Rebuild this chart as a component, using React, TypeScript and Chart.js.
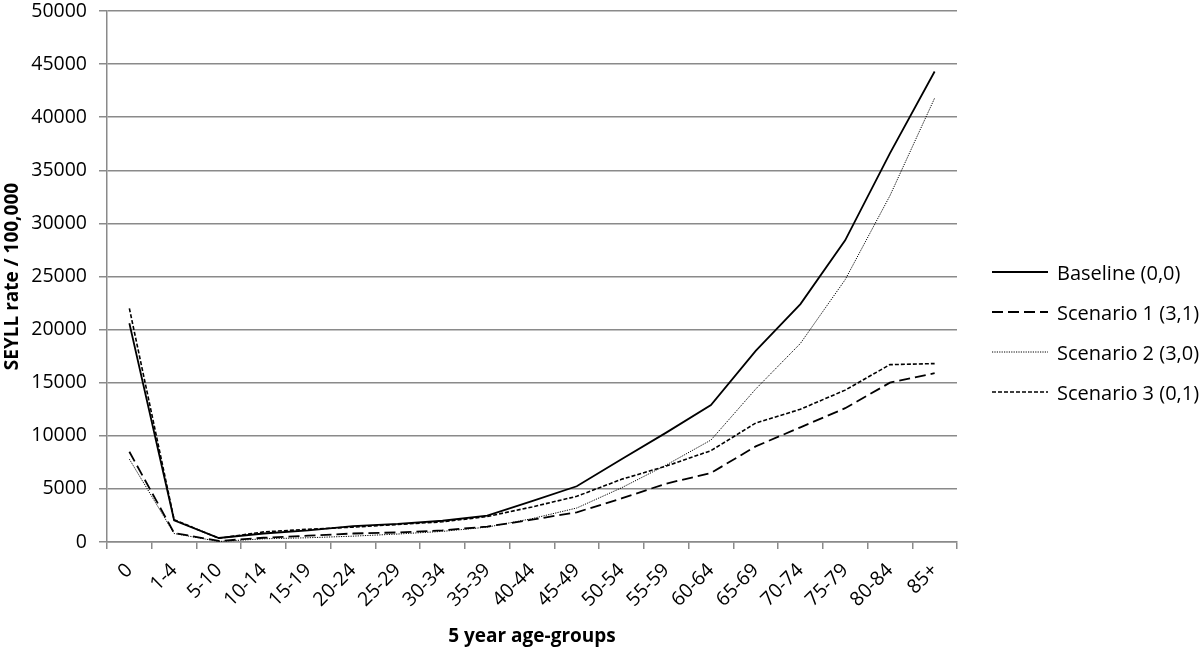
import React, { useEffect, useRef } from "react";
import { Chart, registerables } from "chart.js";

Chart.register(...registerables);

const categories = ["0", "1-4", "5-10", "10-14", "15-19", "20-24", "25-29", "30-34", "35-39", "40-44", "45-49", "50-54", "55-59", "60-64", "65-69", "70-74", "75-79", "80-84", "85+"];

const baseline = [20600, 2050, 380, 800, 1100, 1500, 1700, 2000, 2480, 3850, 5250, 7800, 10300, 12900, 18000, 22400, 28400, 36600, 44300];
const scenario1 = [8500, 850, 100, 400, 600, 800, 900, 1100, 1450, 2100, 2800, 4100, 5500, 6500, 9000, 10800, 12600, 15000, 15900];
const scenario2 = [7800, 800, 50, 300, 400, 550, 750, 1000, 1400, 2200, 3200, 5100, 7250, 9600, 14400, 18700, 24700, 32600, 41800];
const scenario3 = [22000, 2100, 350, 950, 1200, 1400, 1650, 1900, 2400, 3300, 4300, 5900, 7150, 8600, 11200, 12500, 14300, 16700, 16800];

const seriesNames = ["Baseline (0,0)", "Scenario 1 (3,1)", "Scenario 2 (3,0)", "Scenario 3 (0,1)"];
const yTicks = [0, 5000, 10000, 15000, 20000, 25000, 30000, 35000, 40000, 45000, 50000];

const FONT = "'Open Sans', 'Noto Sans', sans-serif";
const GRID = "#8a8a8a";

const styles = [
  { dash: [] as number[], width: 1.8 },
  { dash: [11, 5], width: 1.8 },
  { dash: [1.2, 1.2], width: 1 },
  { dash: [4, 2], width: 1.6 },
];

export default function App() {
  const ref = useRef<HTMLCanvasElement | null>(null);

  useEffect(() => {
    document.body.style.margin = "0";
    const ctx = ref.current;
    if (!ctx) return;
    const values = [baseline, scenario1, scenario2, scenario3];
    const chart = new Chart(ctx, {
      type: "line",
      data: {
        labels: categories,
        datasets: values.map((v, i) => ({
          label: seriesNames[i],
          data: v,
          borderColor: "#000",
          backgroundColor: "#000",
          borderWidth: styles[i].width,
          borderDash: styles[i].dash,
          pointRadius: 0,
          tension: 0,
          fill: false,
        })),
      },
      options: {
        animation: false,
        responsive: false,
        maintainAspectRatio: false,
        layout: { padding: { top: 11, right: 243, left: 0, bottom: 0 } },
        plugins: {
          legend: { display: false },
          tooltip: { enabled: false },
        },
        scales: {
          x: {
            type: "category",
            offset: true,
            grid: {
              offset: true,
              drawOnChartArea: false,
              drawTicks: true,
              tickLength: 7,
              color: GRID,
              lineWidth: 1.5,
            },
            border: { display: true, color: GRID, width: 1.5 },
            ticks: {
              autoSkip: false,
              maxRotation: 45,
              minRotation: 45,
              padding: 10,
              color: "#000",
              font: { family: FONT, size: 19.5 },
            },
            title: {
              display: true,
              text: "5 year age-groups",
              color: "#000",
              font: { family: FONT, size: 19, weight: "bold" },
              padding: { top: 0, bottom: 1 },
            },
            afterFit: (s: any) => {
              s.height = 107;
            },
          },
          y: {
            min: 0,
            max: 50000,
            afterBuildTicks: (s: any) => {
              s.ticks = yTicks.map((v) => ({ value: v }));
            },
            grid: {
              color: GRID,
              lineWidth: 1.5,
              tickLength: 8,
              drawTicks: true,
            },
            border: { display: true, color: GRID, width: 1.5 },
            ticks: {
              padding: 12,
              color: "#000",
              font: { family: FONT, size: 19.5 },
              callback: (v: any) => String(v),
            },
            title: {
              display: true,
              text: "SEYLL rate / 100,000",
              color: "#000",
              font: { family: FONT, size: 19, weight: "bold" },
              padding: { top: 1, bottom: 0 },
            },
            afterFit: (s: any) => {
              s.width = 107;
              s.paddingTop = 0;
              s.paddingBottom = 0;
            },
          },
        },
      },
    });
    return () => chart.destroy();
  }, []);

  const legendTops = [272, 312, 352, 392];

  return (
    <div style={{ position: "relative", width: 1200, height: 649, background: "#fff" }}>
      <canvas ref={ref} width={1200} height={649} style={{ display: "block" }} />
      {seriesNames.map((name, i) => (
        <div
          key={name}
          style={{
            position: "absolute",
            left: 992,
            top: legendTops[i] - 14,
            height: 28,
            display: "flex",
            alignItems: "center",
            whiteSpace: "nowrap",
            fontFamily: FONT,
            fontSize: 20,
            color: "#000",
          }}
        >
          <svg width={56} height={6} style={{ display: "block" }}>
            <line
              x1={0}
              y1={3}
              x2={56}
              y2={3}
              stroke="#000"
              strokeWidth={styles[i].width}
              strokeDasharray={styles[i].dash.length ? styles[i].dash.join(",") : undefined}
            />
          </svg>
          <span style={{ marginLeft: 9 }}>{name}</span>
        </div>
      ))}
    </div>
  );
}
